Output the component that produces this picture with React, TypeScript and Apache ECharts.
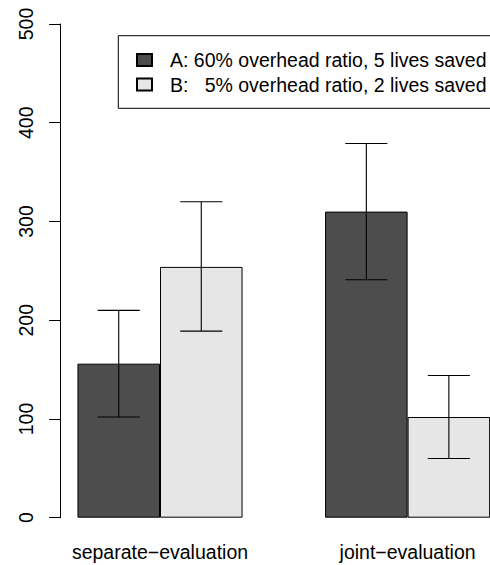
import React, { useEffect, useRef } from 'react';
import * as echarts from 'echarts';

const categories = ['separate−evaluation', 'joint−evaluation'];
const seriesNames = [
  'A: 60% overhead ratio, 5 lives saved',
  'B:   5% overhead ratio, 2 lives saved',
];
const meanA = [156, 310];
const meanB = [254, 102];
const lowA = [102, 241];
const highA = [210, 379];
const lowB = [189, 60];
const highB = [320, 144];
const yMin = 0;
const yMax = 500;
const yInterval = 100;

const colorA = '#4D4D4D';
const colorB = '#E6E6E6';

export default function App() {
  const ref = useRef<HTMLDivElement>(null);
  useEffect(() => {
    const chart = echarts.init(ref.current!, null, { renderer: 'svg' });
    const font = "'Liberation Sans', Arial, Helvetica, sans-serif";
    const fs = 19.5;

    const errSeries = (name: string, lows: number[], highs: number[], side: number) => ({
      type: 'custom',
      name: name + ' (error)',
      data: categories.map((_, i) => [i, lows[i], highs[i]]),
      z: 5,
      renderItem: (params: any, api: any) => {
        const band = api.size([1, 0])[0];
        const bw = band / 3;
        const top = api.coord([api.value(0), api.value(2)]);
        const bot = api.coord([api.value(0), api.value(1)]);
        const x = top[0] + (side * bw) / 2;
        const cap = bw * 0.255;
        const style = { stroke: '#000', lineWidth: 1.1, fill: null };
        return {
          type: 'group',
          children: [
            { type: 'line', shape: { x1: x, y1: top[1], x2: x, y2: bot[1] }, style },
            { type: 'line', shape: { x1: x - cap, y1: top[1], x2: x + cap, y2: top[1] }, style },
            { type: 'line', shape: { x1: x - cap, y1: bot[1], x2: x + cap, y2: bot[1] }, style },
          ],
        };
      },
    });

    chart.setOption({
      animation: false,
      backgroundColor: '#fff',
      textStyle: { fontFamily: font },
      grid: { left: 36.2, width: 495.2, top: 24, height: 493.7, containLabel: false },
      legend: {
        orient: 'vertical',
        left: 118.3,
        top: 35.7,
        padding: [14.3, 30, 13.8, 17.7],
        itemWidth: 15,
        itemHeight: 12,
        itemGap: 4.5,
        icon: 'rect',
        borderColor: '#000',
        borderWidth: 1,
        borderRadius: 0,
        selectedMode: false,
        textStyle: { fontFamily: font, fontSize: fs, color: '#000', padding: [0, 0, 0, 13] },
        data: seriesNames,
      },
      xAxis: {
        type: 'category',
        data: categories,
        axisLine: { show: false },
        axisTick: { show: false },
        axisLabel: { fontFamily: font, fontSize: fs, color: '#000', margin: 24 },
      },
      yAxis: {
        type: 'value',
        min: yMin,
        max: yMax,
        interval: yInterval,
        offset: -24.5,
        splitLine: { show: false },
        axisLine: { show: true, lineStyle: { color: '#000', width: 1 } },
        axisTick: { show: true, length: 11.7, lineStyle: { color: '#000', width: 1 } },
        axisLabel: { fontFamily: font, fontSize: fs, color: '#000', rotate: 90, margin: 25 },
      },
      series: [
        {
          type: 'bar',
          name: seriesNames[0],
          data: meanA,
          barWidth: '33.333%',
          barGap: '0%',
          itemStyle: { color: colorA, borderColor: '#000', borderWidth: 1 },
        },
        {
          type: 'bar',
          name: seriesNames[1],
          data: meanB,
          barWidth: '33.333%',
          barGap: '0%',
          itemStyle: { color: colorB, borderColor: '#000', borderWidth: 1 },
        },
        errSeries('A', lowA, highA, -1),
        errSeries('B', lowB, highB, 1),
      ],
    });
    return () => chart.dispose();
  }, []);
  return (
    <div
      style={{
        position: 'fixed',
        left: 0,
        top: 0,
        width: 490,
        height: 565,
        overflow: 'hidden',
        background: '#fff',
      }}
    >
      <div ref={ref} style={{ width: 545, height: 565 }} />
    </div>
  );
}
